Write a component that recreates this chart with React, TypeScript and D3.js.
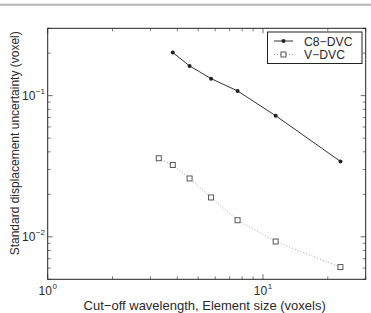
import React from "react";
import * as d3 from "d3";

const xC8 = [3.81, 4.56, 5.74, 7.62, 11.45, 22.9];
const yC8 = [0.202, 0.1625, 0.132, 0.108, 0.0721, 0.0342];
const xV = [3.28, 3.81, 4.56, 5.74, 7.62, 11.45, 22.9];
const yV = [0.036, 0.0323, 0.0259, 0.019, 0.0131, 0.00926, 0.0061];
const seriesNames = ["C8\u2212DVC", "V\u2212DVC"];
const xMajor = [1, 10];
const yMajor = [0.01, 0.1];
const xLabel = "Cut\u2212off wavelength, Element size (voxels)";
const yLabel = "Standard displacement uncertainty (voxel)";

export default function App() {
  const W = 371, H = 313;
  const L = 47.7, R = 365.7, T = 28.3, B = 279.3;
  const x = d3.scaleLog().domain([1, 30]).range([L, R]);
  const y = d3.scaleLog().domain([0.005, 0.3]).range([B, T]);
  const xMinor = [2, 3, 4, 5, 6, 7, 8, 9, 20, 30];
  const yMinor = [0.005, 0.006, 0.007, 0.008, 0.009, 0.02, 0.03, 0.04, 0.05, 0.06, 0.07, 0.08, 0.09, 0.2, 0.3];
  const c8 = xC8.map((v, i) => [x(v), y(yC8[i])] as [number, number]);
  const vd = xV.map((v, i) => [x(v), y(yV[i])] as [number, number]);
  const line = d3.line();
  const font = "'Liberation Sans', Arial, Helvetica, sans-serif";
  const tc = "#2a2a2a";
  return (
    <svg width={W} height={H} style={{ position: "absolute", left: 0, top: 0 }} fontFamily={font}>
      <rect x={0} y={0} width={W} height={H} fill="#fff" />
      <line x1={0} x2={W} y1={4.8} y2={4.8} stroke="#b4b4b4" strokeWidth={2} />
      {/* ticks */}
      {xMinor.map((v) => (
        <g key={"xm" + v} stroke="#444" strokeWidth={0.7}>
          <line x1={x(v)} x2={x(v)} y1={B} y2={B - 3} />
          <line x1={x(v)} x2={x(v)} y1={T} y2={T + 3} />
        </g>
      ))}
      {xMajor.map((v) => (
        <g key={"xM" + v} stroke="#444" strokeWidth={0.8}>
          <line x1={x(v)} x2={x(v)} y1={B} y2={B - 5} />
          <line x1={x(v)} x2={x(v)} y1={T} y2={T + 5} />
        </g>
      ))}
      {yMinor.map((v) => (
        <g key={"ym" + v} stroke="#444" strokeWidth={0.7}>
          <line x1={L} x2={L + 3} y1={y(v)} y2={y(v)} />
          <line x1={R} x2={R - 3} y1={y(v)} y2={y(v)} />
        </g>
      ))}
      {yMajor.map((v) => (
        <g key={"yM" + v} stroke="#444" strokeWidth={0.8}>
          <line x1={L} x2={L + 5} y1={y(v)} y2={y(v)} />
          <line x1={R} x2={R - 5} y1={y(v)} y2={y(v)} />
        </g>
      ))}
      <rect x={L} y={T} width={R - L} height={B - T} fill="none" stroke="#222" strokeWidth={1} />
      {/* tick labels */}
      {xMajor.map((v) => (
        <text key={"xl" + v} x={x(v)} y={294.6} fontSize={12} fill={tc} textAnchor="middle">
          10
          <tspan fontSize={8} dy={-6} dx={0.5}>{Math.round(Math.log10(v))}</tspan>
        </text>
      ))}
      {yMajor.map((v) => (
        <text key={"yl" + v} x={45} y={y(v) + 4.5} fontSize={12} fill={tc} textAnchor="end">
          10
          <tspan fontSize={8} dy={-6} dx={0.5}>{"\u2212" + Math.abs(Math.round(Math.log10(v)))}</tspan>
        </text>
      ))}
      <text x={204.7} y={309.6} fontSize={13} fill={tc} textAnchor="middle">{xLabel}</text>
      <text transform={`translate(18.5,143.3) rotate(-90)`} fontSize={12} fill={tc} textAnchor="middle">{yLabel}</text>
      {/* series */}
      <path d={line(c8) || ""} fill="none" stroke="#333" strokeWidth={1} />
      {c8.map((p, i) => (
        <circle key={"c" + i} cx={p[0]} cy={p[1]} r={2} fill="#222" />
      ))}
      <path d={line(vd) || ""} fill="none" stroke="#888" strokeWidth={0.8} strokeDasharray="1,2" />
      {vd.map((p, i) => (
        <rect key={"s" + i} x={p[0] - 2.5} y={p[1] - 2.5} width={5} height={5} fill="#fff" stroke="#444" strokeWidth={0.9} />
      ))}
      {/* legend */}
      <rect x={267.5} y={32} width={94.5} height={31.5} fill="#fff" stroke="#222" strokeWidth={1} />
      <line x1={274} x2={293} y1={41} y2={41} stroke="#333" strokeWidth={1} />
      <circle cx={283.5} cy={41} r={2} fill="#222" />
      <text x={304} y={45.5} fontSize={12.2} fill={tc}>{seriesNames[0]}</text>
      <line x1={274} x2={293} y1={54.5} y2={54.5} stroke="#888" strokeWidth={0.8} strokeDasharray="1,2" />
      <rect x={281} y={52} width={5} height={5} fill="#fff" stroke="#444" strokeWidth={0.9} />
      <text x={304} y={59} fontSize={12.2} fill={tc}>{seriesNames[1]}</text>
    </svg>
  );
}
